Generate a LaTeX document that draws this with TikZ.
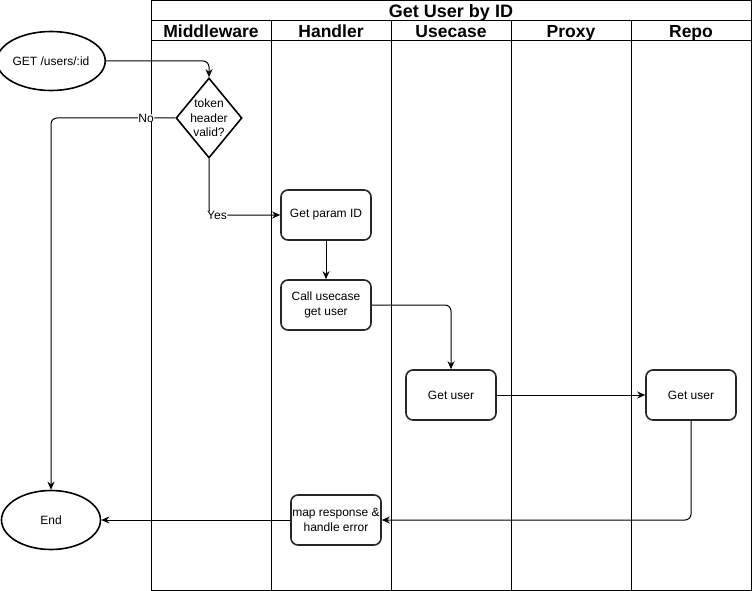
\documentclass[tikz,border=0pt]{standalone}
\usepackage{fontspec}
\setmainfont{Liberation Sans}
\usetikzlibrary{shapes.geometric,arrows.meta}
\begin{document}
\begin{tikzpicture}[x=1pt,y=-1pt,
  lane/.style={draw=black,line width=1pt},
  hdr/.style={font=\fontsize{17.5}{20}\selectfont\bfseries,inner sep=0pt,anchor=base},
  ttl/.style={font=\fontsize{18}{20}\selectfont\bfseries,inner sep=0pt,anchor=base},
  stepbox/.style={draw=black!85,line width=1.6pt,rounded corners=7pt,fill=white,
    minimum width=90pt,minimum height=50pt,align=center,inner sep=1pt,
    font=\fontsize{12}{14.5}\selectfont},
  term/.style={draw=black,line width=1.6pt,ellipse,fill=white,
    minimum width=99pt,minimum height=59pt,inner sep=0pt,
    font=\fontsize{12}{14.5}\selectfont},
  decision/.style={draw=black,line width=1.6pt,diamond,fill=white,
    minimum width=66pt,minimum height=80pt,inner sep=0pt},
  conn/.style={draw=black,line width=1pt,rounded corners=6pt,
    -{Stealth[length=8pt,width=7pt]}},
  lbl/.style={fill=white,inner sep=0.5pt,font=\fontsize{12}{14}\selectfont}
]
\useasboundingbox (0,0) rectangle (752,591);
% pool
\draw[lane] (151,1) rectangle (751,590);
\draw[lane] (151,21) -- (751,21);
\draw[lane] (151,41) -- (751,41);
\foreach \x in {271,391,511,631} \draw[lane] (\x,21) -- (\x,590);
\node[ttl] (title) at (451,17.3) {Get User by ID};
\node[hdr] (hmw) at (211,37.6) {Middleware};
\node[hdr] (hhd) at (331,37.6) {Handler};
\node[hdr] (huc) at (451,37.6) {Usecase};
\node[hdr] (hpx) at (571,37.6) {Proxy};
\node[hdr] (hrp) at (691,37.6) {Repo};
% nodes
\node[term] (get) at (51,61) {GET /users/:id};
\node[decision] (tok) at (209,118) {};
\node[align=center,inner sep=0pt,font=\fontsize{12}{14.5}\selectfont] (toktxt) at (tok.center) {token\\header\\valid?};
\node[term] (end) at (51,520) {End};
\node[stepbox] (param) at (326,215) {Get param ID};
\node[stepbox] (call) at (326,305) {Call usecase\\get user};
\node[stepbox] (uc) at (451,395) {Get user};
\node[stepbox] (repo) at (691,395) {Get user};
\node[stepbox] (map) at (336,520) {map response \&\\handle error};
% connectors
\draw[conn] (get.east) -| (tok.north);
\draw[conn] (tok.west) -| node[lbl,pos=0.117] (no) {No} (end.north);
\draw[conn] (tok.south) |- node[lbl,pos=0.556] (yes) {Yes} (param.west);
\draw[conn] (param.south) -- (call.north);
\draw[conn] (call.east) -| (uc.north);
\draw[conn] (uc.east) -- (repo.west);
\draw[conn] (repo.south) |- (map.east);
\draw[conn] (map.west) -- (end.east);
\end{tikzpicture}
\end{document}
